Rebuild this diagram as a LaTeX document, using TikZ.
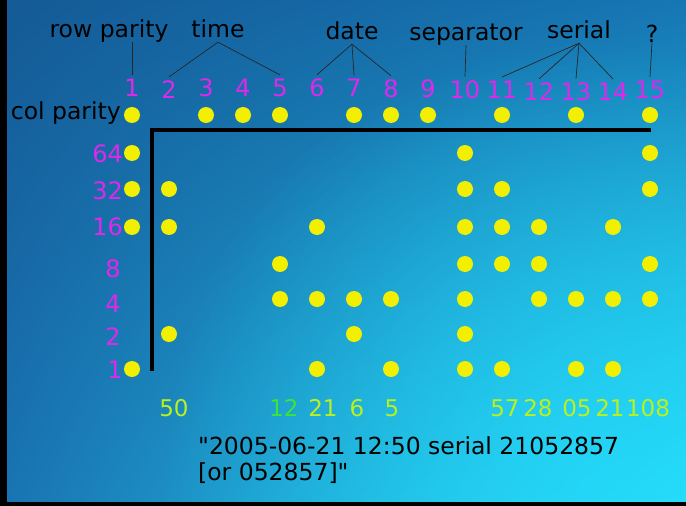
\documentclass[tikz,border=0pt]{standalone}
\usepackage{fontspec}
\setmainfont{DejaVu Sans}[Ligatures=TeXOff]
\usepackage{xcolor}
\usetikzlibrary{positioning}
\usetikzlibrary{shadings}
\usetikzlibrary{fadings}
\definecolor{bgul}{RGB}{20,90,150}
\definecolor{bgur}{RGB}{22,118,180}
\definecolor{bgll}{RGB}{25,115,178}
\definecolor{bglr}{RGB}{40,230,250}
\definecolor{glow}{RGB}{35,215,250}
\definecolor{dotyellow}{RGB}{242,240,0}
\definecolor{nummagenta}{RGB}{222,40,235}
\definecolor{sumgreen}{RGB}{185,240,30}
\definecolor{hourgreen}{RGB}{60,228,55}
\tikzfading[name=glowfade, inner color=transparent!0, outer color=transparent!100]
\tikzstyle{bit}=[circle, fill=dotyellow, minimum size=16pt, inner sep=0pt]
\tikzstyle{colnum}=[text=nummagenta, font=\fontsize{24}{26}\selectfont, inner sep=4pt]
\tikzstyle{field}=[font=\fontsize{23.5}{26}\selectfont, inner sep=0pt, text depth=5pt]
\tikzstyle{sum}=[text=sumgreen, font=\fontsize{23}{26}\selectfont, inner sep=1pt]
\tikzstyle{brace}=[draw=black!85, line width=0.7pt]

\begin{document}
\begin{tikzpicture}[x=1pt, y=-1pt]
    \useasboundingbox (0,0) rectangle (686,506);
    % background photo
    \shade[upper left=bgul, upper right=bgur, lower left=bgll, lower right=bglr] (0,0) rectangle (686,506);
    \begin{scope}
      \clip (0,0) rectangle (686,506);
      \fill[glow, opacity=0.75, path fading=glowfade] (590,470) circle (430);
    \end{scope}
    \fill[black] (0,0) rectangle (7,506);
    \fill[black] (0,502) rectangle (686,506);

    % column numbers
    \foreach \i/\y in {1/88,2/90,3/88,4/88,5/88,6/88,7/88,8/89,9/89,10/90,11/90,12/92,13/92,14/92,15/90}
      \node[colnum] (c\i) at ({132+37*(\i-1)},\y) {\i};

    % row weights
    \node[colnum, anchor=east, inner sep=0pt] (r64) at (123,154) {64};
    \node[colnum, anchor=east, inner sep=0pt] (r32) at (123,191) {32};
    \node[colnum, anchor=east, inner sep=0pt] (r16) at (123,227) {16};
    \node[colnum, inner sep=0pt] (r8) at (113,269) {8};
    \node[colnum, inner sep=0pt] (r4) at (113,304) {4};
    \node[colnum, inner sep=0pt] (r2) at (113,337) {2};
    \node[colnum, inner sep=0pt] (r1) at (115,370) {1};
    \node[field, anchor=base east] (colpar) at (121,119) {col parity};

    % dots
    \foreach \c/\rows in {1/{0,1,2,3,7}, 2/{2,3,6}, 3/{0}, 4/{0}, 5/{0,4,5}, 6/{3,5,7}, 7/{0,5,6}, 8/{0,5,7},
                          9/{0}, 10/{1,2,3,4,5,6,7}, 11/{0,2,3,4,7}, 12/{3,4,5}, 13/{0,5,7}, 14/{3,5,7}, 15/{0,1,2,4,5}}
      \foreach \r in \rows {
        \pgfmathsetmacro{\y}{{115,153,189,227,264,299,334,369}[\r]}
        \node[bit] (b\c-\r) at ({132+37*(\c-1)},\y) {};
      }

    % frame
    \draw[line width=4pt] (152,371) -- (152,130) -- (651,130);

    % field names
    \node[field, anchor=base] (rowpar) at (109,37) {row parity};
    \node[field, anchor=base] (time)   at (218,37) {time};
    \node[field, anchor=base] (date)   at (352,39) {date};
    \node[field, anchor=base] (sep)    at (466,40) {separator};
    \node[field, anchor=base] (serial) at (579,38) {serial};
    \node[field, anchor=base] (quest)  at (652,42) {?};

    \draw[brace] (rowpar.south -| c1.north) -- (c1.north);
    \draw[brace] (c2.north) -- (time.south) -- (c5.north);
    \draw[brace] (c6.north) -- (date.south) -- (c8.north);
    \draw[brace] (date.south) -- (c7.north);
    \draw[brace] (sep.south) -- (c10.north);
    \draw[brace] (c11.north) -- (serial.south) -- (c14.north);
    \draw[brace] (c12.north) -- (serial.south) -- (c13.north);
    \draw[brace] ([yshift=5pt]quest.south) -- (c15.north);

    % decoded values
    \node[sum] (s2) at (174,408) {50};
    \node[sum, text=hourgreen] (s5) at (284,408) {12};
    \foreach \n/\x/\v in {6/323/21, 7/357/6, 8/392/5, 11/505/57, 12/538/28, 13/577/05, 14/610/21, 15/648/108}
      \node[sum] (s\n) at (\x,408) {\v};

    \node[field, anchor=north west, align=left, text depth=0pt] (decoded) at (198,436)
      {"2005-06-21 12:50 serial 21052857\\{[}or 052857]"};
\end{tikzpicture}
\end{document}
